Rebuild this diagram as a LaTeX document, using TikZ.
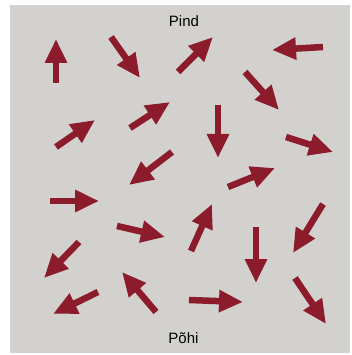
\documentclass[tikz,border=0pt]{standalone}
\usepackage{fontspec}
\setmainfont{Liberation Sans}
\usetikzlibrary{arrows.meta}
\definecolor{field}{HTML}{D3D1CD}
\definecolor{vec}{HTML}{8C1B2B}

\begin{document}
\begin{tikzpicture}[x=1pt,y=-1pt,>={Triangle[length=24pt,width=21pt]},
  lab/.style={font=\fontsize{15}{17}\selectfont},
  moment/.style={->,vec,line width=6.5pt}]
\useasboundingbox (0,0) rectangle (352,355);
% gray panel
\fill[field] (10,5) rectangle (350,353);
% labels
\node[lab] (pind) at (184,21.5) {Pind};
\node[lab] (pohi) at (183.5,338) {Põhi};
% randomly oriented arrows
\foreach \xa/\ya/\xb/\yb in {56/83/56/39, 111/37/140/78, 178/72/213/37, 323/47/272/50,
    245/72/279/110, 56/147/95/120, 130/128/170/102, 218/105/218/158,
    286/137/333/152, 172/152/129/185, 228/187/275/168, 50/201/99/201,
    117/226/165/237, 191/251/212/204, 256/227/256/283, 323/204/293/253,
    79/242/44/278, 156/312/122/272, 189/300/243/302, 98/292/53/314,
    295/278/326/324} {
  \draw[moment] (\xa,\ya) -- (\xb,\yb);
}
\end{tikzpicture}
\end{document}
